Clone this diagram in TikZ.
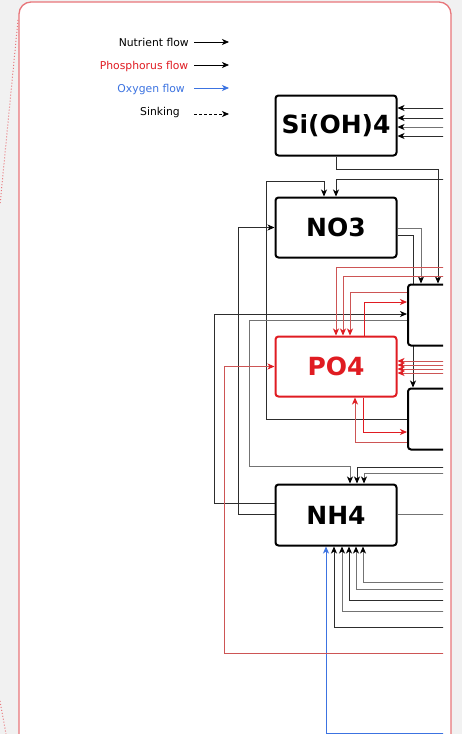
\documentclass[tikz,border=0pt]{standalone}
\usepackage{fontspec}
\setmainfont{DejaVu Sans}
\usetikzlibrary{arrows.meta,calc}
\definecolor{panelbd}{RGB}{232,118,122}
\definecolor{bggray}{RGB}{241,241,241}
\definecolor{pred}{RGB}{224,28,34}
\definecolor{pline}{RGB}{205,85,85}
\definecolor{oblue}{RGB}{60,115,225}
\definecolor{dline}{RGB}{45,45,45}
\definecolor{gline}{RGB}{115,115,115}
\pgfdeclarelayer{back}
\pgfdeclarelayer{links}
\pgfsetlayers{back,links,main}
\begin{document}
\begin{tikzpicture}[x=1pt,y=-1pt,
  ntip/.style={-{Stealth[length=7pt,width=6pt,inset=2pt,color=black]}},
  nflow/.style={draw=dline,line width=0.8pt,ntip},
  gflow/.style={draw=gline,line width=0.8pt,ntip},
  gplain/.style={draw=gline,line width=0.8pt},
  pflow/.style={draw=pline,line width=0.8pt,-{Stealth[length=7pt,width=6pt,inset=2pt,color=pred]}},
  bflow/.style={draw=pred,line width=0.8pt,-{Stealth[length=7pt,width=6pt,inset=2pt,color=pred]}},
  oflow/.style={draw=oblue,line width=0.8pt,-{Stealth[length=7pt,width=6pt,inset=2pt,color=oblue]}},
  legtext/.style={anchor=base east,inner sep=0pt,font={\fontsize{10.8pt}{13pt}\selectfont}},
  boxn/.style={draw=black,line width=2pt,rounded corners=3pt,fill=white,
    minimum width=121pt,minimum height=60pt,inner sep=0pt,
    font={\fontsize{25pt}{30pt}\selectfont\bfseries}},
]
\useasboundingbox (0,0) rectangle (462,734);

% panel
\begin{pgfonlayer}{back}
  \fill[bggray] (0,0) rectangle (462,734);
  \draw[panelbd,line width=1.3pt,fill=white,rounded corners=12pt] (19,2) rectangle (451,780);
  \draw[panelbd,dotted,line width=1pt] (18,20) -- (0,205);
  \draw[panelbd,dotted,line width=1pt] (0,701) -- (6,734);
\end{pgfonlayer}

% legend
\node[legtext] (t1) at (189,46) {Nutrient flow};
\node[legtext,text=pred] (t2) at (188.5,69) {Phosphorus flow};
\node[legtext,text=oblue] (t3) at (185,92) {Oxygen flow};
\node[legtext] (t4) at (180,115) {Sinking};
\coordinate (a1) at (194,42);  \coordinate (b1e) at (229,42);
\coordinate (a2) at (194,65);  \coordinate (b2e) at (229,65);
\coordinate (a3) at (194,88);  \coordinate (b3e) at (229,88);
\coordinate (a4) at (194,114); \coordinate (b4e) at (229,114);
\draw[nflow,draw=black] (a1) -- (b1e);
\draw[nflow,draw=black] (a2) -- (b2e);
\draw[oflow] (a3) -- (b3e);
\draw[nflow,draw=black,dash pattern=on 3pt off 2pt] (a4) -- (b4e);

% boxes
\node[boxn] (si)  at (336,125.5) {Si(OH)4};
\node[boxn] (no3) at (336,227.5) {NO3};
\node[boxn,draw=pred,text=pred] (po4) at (336,366.5) {PO4};
\node[boxn,minimum height=61pt] (nh4) at (336,515) {NH4};
\begin{scope}
  \clip (0,0) rectangle (443,734);
  \node[boxn,minimum width=90pt,minimum height=61pt,anchor=west] (b1) at (407,315) {};
  \node[boxn,minimum width=90pt,minimum height=61pt,anchor=west] (b2) at (407,419) {};
\end{scope}

\coordinate (R) at (447,0);

\begin{pgfonlayer}{links}
\begin{scope}
\clip (0,0) rectangle (443,734);
% Si(OH)4 inputs
\draw[nflow] (R |- 0,108) -- (si.east |- 0,108);
\draw[nflow] (R |- 0,118) -- (si.east |- 0,118);
\draw[gflow] (R |- 0,127) -- (si.east |- 0,127);
\draw[nflow] (R |- 0,136) -- (si.east |- 0,136);
% Si(OH)4 -> b1
\draw[nflow] (si.south) |- (438,169) -- (438,0 |- b1.north);
% into NO3 top
\draw[nflow] (R |- 0,179) -| (no3.north);
\draw[nflow] (b2.west |- 0,419) -- (266,419) -- (266,181) -| (324,0 |- no3.north);
% NH4 -> NO3
\draw[nflow] (nh4.west |- 0,514) -- (238,514) |- (no3.west);
% NO3 -> b1, b2
\draw[gflow] (no3.east |- 0,228) -| (421,0 |- b1.north);
\draw[nflow] (no3.east |- 0,235) -| (413,0 |- b2.north);
% NH4 -> b1
\draw[nflow] (nh4.west |- 0,503) -- (214,503) |- (b1.west |- 0,314);
% b1 -> NH4
\draw[gflow] (b1.west |- 0,320) -- (249,320) |- (350,466) -- (350,0 |- nh4.north);
% right -> NH4 top
\draw[nflow] (R |- 0,467) -| (357,0 |- nh4.north);
\draw[gflow] (R |- 0,473) -| (364,0 |- nh4.north);
% NH4 -> right
\draw[gplain] (nh4.east |- 0,514) -- (R |- 0,514);
% right -> NH4 bottom
\draw[gflow] (R |- 0,582) -| (363,0 |- nh4.south);
\draw[gflow] (R |- 0,589) -| (356,0 |- nh4.south);
\draw[nflow] (R |- 0,600) -| (349,0 |- nh4.south);
\draw[gflow] (R |- 0,611) -| (342,0 |- nh4.south);
\draw[nflow] (R |- 0,627) -| (334,0 |- nh4.south);
\draw[oflow] (R |- 0,733) -| (326,0 |- nh4.south);
% phosphorus into PO4 top
\draw[pflow] (R |- 0,267) -| (po4.north);
\draw[pflow] (R |- 0,276) -| (343,0 |- po4.north);
\draw[pflow] (b1.west |- 0,292) -| (350,0 |- po4.north);
% PO4 -> b1
\draw[bflow] (364,0 |- po4.north) |- (b1.west |- 0,302);
% right -> PO4 left
\draw[pflow] (R |- 0,653) -| (224,0 |- po4.west) -- (po4.west);
% right -> PO4 right
\draw[pflow] (R |- 0,361) -- (po4.east |- 0,361);
\draw[pflow] (R |- 0,365) -- (po4.east |- 0,365);
\draw[pflow] (R |- 0,369) -- (po4.east |- 0,369);
\draw[pflow] (R |- 0,373) -- (po4.east |- 0,373);
% PO4 <-> b2
\draw[bflow] (363,0 |- po4.south) |- (b2.west |- 0,432);
\draw[pflow] (b2.west |- 0,442) -| (355,0 |- po4.south);
\end{scope}
\end{pgfonlayer}
\end{tikzpicture}
\end{document}
